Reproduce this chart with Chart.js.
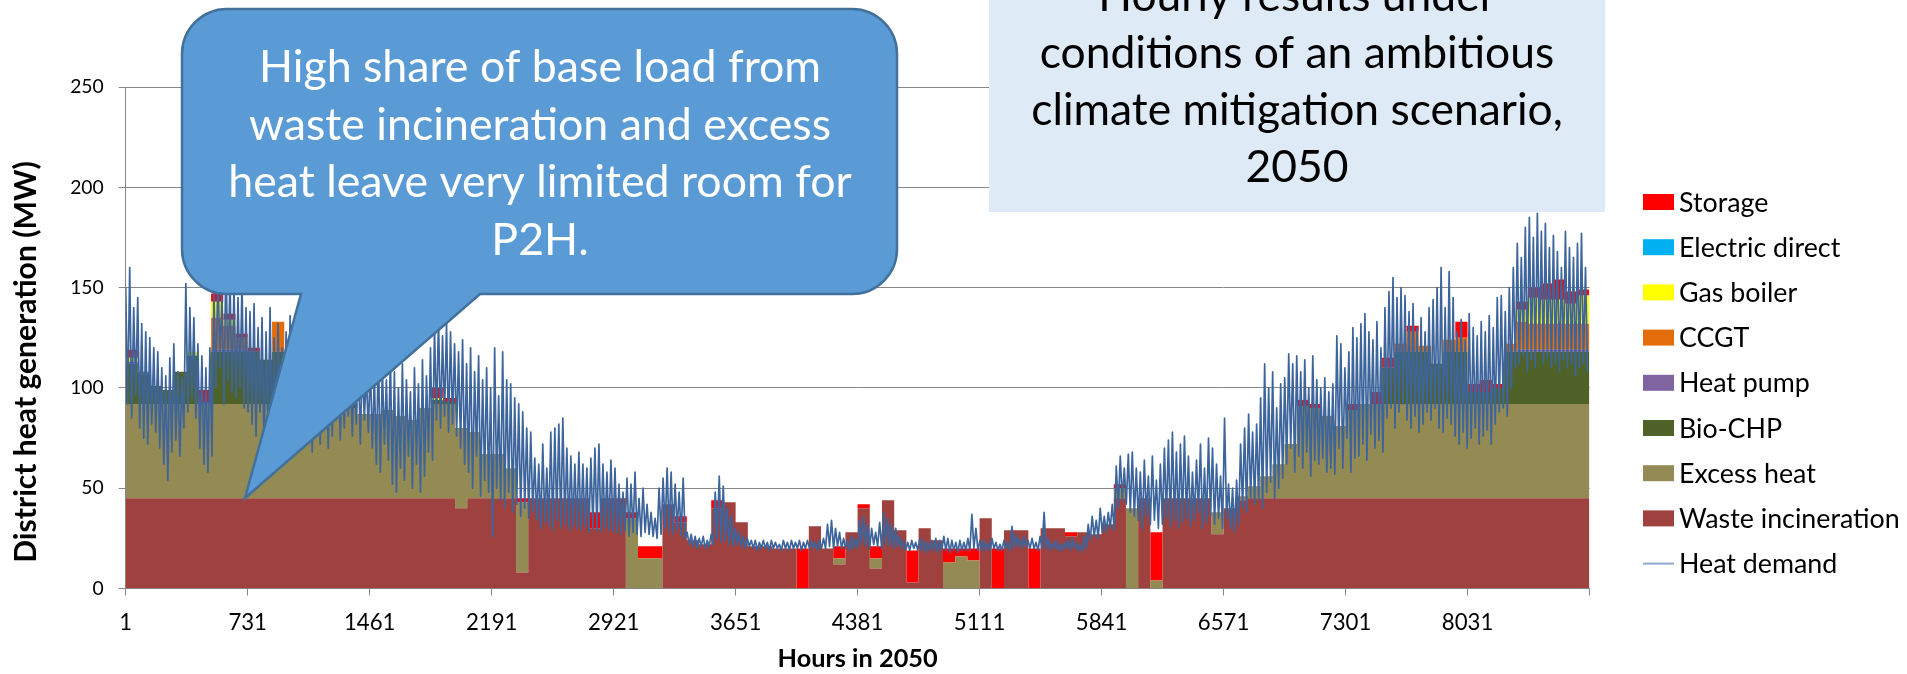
<!DOCTYPE html>
<html>
<head>
<meta charset="utf-8">
<title>District heat generation - hourly results 2050</title>
<script src="https://cdn.jsdelivr.net/npm/chart.js@4.4.0/dist/chart.umd.min.js"></script>
<style>
    html, body { margin: 0; padding: 0; background: #ffffff; }
    #chartBox { position: relative; width: 1907px; height: 674px; }
</style>
</head>
<body>
<div id="chartBox"><canvas id="heatChart"></canvas></div>
<script>
// Resolution of the values
const BLOCK_HOURS = 73;   // supply mix: one value per 73-hour block (120 blocks)
const DEMAND_STEP = 12;   // heat demand: one value every 12 hours (day peak, night low)
const LAST_HOUR = 8761;

// x-axis tick labels (hours in 2050); the last one is only a tick mark
const hourTicks = [1, 731, 1461, 2191, 2921, 3651, 4381, 5111, 5841, 6571, 7301, 8031, 8761];

// Supply per technology, MW, one value per 73-hour block
const wasteIncineration = [
    45,45,45,45,45,45,45,45,45,45,45,45,45,45,45,45,45,45,45,45,
    45,45,45,45,45,45,45,40,45,45,45,45,8,45,45,45,45,45,30,45,
    45,0,0,0,42,33,24,22,40,43,33,21,21,20,20,0,31,20,12,28,
    40,10,44,29,3,30,24,0,0,0,35,0,29,29,0,30,30,26,28,27,
    32,45,0,45,0,45,45,45,45,27,40,44,45,45,45,45,45,45,45,45,
    45,45,45,45,45,45,45,45,45,45,45,45,45,45,45,45,45,45,45,45
];
const excessHeat = [
    47,47,47,47,47,47,47,47,47,47,47,47,47,47,47,47,47,47,45,42,
    42,44,41,39,45,47,47,40,33,22,22,15,35,0,0,0,0,0,0,0,
    0,35,15,15,0,0,0,0,0,0,0,0,0,0,0,0,0,0,3,0,
    0,5,0,0,0,0,0,13,16,14,0,0,0,0,0,0,0,0,0,0,
    0,5,40,0,4,0,0,0,0,11,0,2,6,11,17,27,46,45,41,36,
    44,47,47,47,47,47,47,47,47,47,47,47,47,47,47,47,47,47,47,47
];
const bioChp = [
    20,15,9,7,16,24,0,26,26,26,26,22,26,20,16,12,10,6,2,0,
    0,0,0,0,0,2,1,0,0,0,0,0,0,0,0,0,0,0,0,0,
    0,0,0,0,0,0,0,0,0,0,0,0,0,0,0,0,0,0,0,0,
    0,0,0,0,0,0,0,0,0,0,0,0,0,0,0,0,0,0,0,0,
    0,0,0,0,0,0,0,0,0,0,0,0,0,0,0,0,0,0,0,0,
    0,0,0,18,26,26,26,20,26,26,6,6,8,26,26,26,26,26,26,26
];
const heatPump = [
    1,1,0,0,0,0,1,1,1,1,0,0,0,0,0,0,0,0,0,0,
    0,0,0,0,0,0,0,0,0,0,0,0,0,0,0,0,0,0,0,0,
    0,0,0,0,0,0,0,0,0,0,0,0,0,0,0,0,0,0,0,0,
    0,0,0,0,0,0,0,0,0,0,0,0,0,0,0,0,0,0,0,0,
    0,0,0,0,0,0,0,0,0,0,0,0,0,0,0,0,0,0,0,0,
    0,0,0,0,0,0,0,0,0,0,0,0,0,0,1,1,1,1,1,1
];
const ccgt = [
    0,0,0,0,0,0,0,16,12,6,0,0,15,0,0,0,0,0,0,0,
    0,0,0,0,0,0,0,0,0,0,0,0,0,0,0,0,0,0,0,0,
    0,0,0,0,0,0,0,0,0,0,0,0,0,0,0,0,0,0,0,0,
    0,0,0,0,0,0,0,0,0,0,0,0,0,0,0,0,0,0,0,0,
    0,0,0,0,0,0,0,0,0,0,0,0,0,0,0,0,0,0,0,0,
    0,0,0,0,4,10,3,0,6,7,0,0,0,4,14,13,13,13,13,13
];
const gasBoiler = [
    2,0,0,0,0,2,0,8,3,0,0,0,0,0,0,0,0,0,0,0,
    0,0,0,0,0,1,0,0,0,0,0,0,0,0,0,0,0,0,0,0,
    0,0,0,0,0,0,0,0,0,0,0,0,0,0,0,0,0,0,0,0,
    0,0,0,0,0,0,0,0,0,0,0,0,0,0,0,0,0,0,0,0,
    0,0,0,0,0,0,0,0,0,0,0,0,0,0,0,0,0,0,0,0,
    0,0,0,0,0,0,0,0,0,0,0,0,0,0,6,13,12,12,10,14
];
const electricDirect = [
    0,0,0,0,0,0,0,0,0,0,0,0,0,0,0,0,0,0,0,0,
    0,0,0,0,0,0,0,0,0,0,0,0,0,0,0,0,0,0,0,0,
    0,0,0,0,0,0,0,0,0,0,0,0,0,0,0,0,0,0,0,0,
    0,0,0,0,0,0,0,0,0,0,0,0,0,0,0,0,0,0,0,0,
    0,0,0,0,0,0,0,0,0,0,0,0,0,0,0,0,0,0,0,0,
    0,0,0,0,0,0,0,0,0,0,0,0,0,0,0,0,0,0,0,0
];
const storage = [
    4,0,0,0,0,0,6,4,3,2,2,0,0,0,0,0,0,0,0,0,
    0,0,0,0,0,5,2,0,0,0,0,0,2,0,0,0,0,0,8,0,
    0,3,6,6,0,3,0,0,4,0,0,0,0,0,0,20,0,0,6,0,
    2,6,0,0,16,0,0,7,4,6,0,20,0,0,20,0,0,2,0,0,
    0,2,0,0,24,0,0,0,0,0,0,0,0,0,0,0,3,2,0,0,
    3,0,6,5,0,3,0,0,0,8,4,6,2,0,4,5,8,10,6,3
];

// Heat demand, MW, every 12 hours (10 days per line: peak, low, peak, low ...)
const heatDemand = [
    150,92, 160,85, 140,96, 145,80, 132,75, 128,72, 125,82, 120,78, 118,70, 110,62,
    106,54, 115,68, 122,74, 108,66, 105,80, 152,88, 140,95, 135,85, 122,70, 116,62,
    110,58, 120,66, 150,100, 160,110, 148,92, 165,104, 155,98, 150,95, 145,100, 152,90,
    140,88, 138,82, 142,76, 130,88, 135,72, 128,80, 140,70, 125,78, 132,74, 120,68,
    128,80, 136,72, 122,76, 130,70, 118,82, 126,74, 120,68, 132,78, 124,72, 116,80,
    122,70, 128,76, 118,84, 124,74, 112,80, 120,86, 116,76, 110,82, 118,72, 114,84,
    108,78, 112,70, 106,62, 118,58, 110,72, 104,64, 116,52, 108,48, 100,60, 112,54,
    104,66, 98,50, 110,62, 102,48, 114,56, 106,68, 120,64, 130,84, 134,80, 126,86,
    132,78, 128,82, 122,76, 118,70, 124,62, 112,58, 120,50, 108,66, 116,46, 104,54,
    110,48, 100,26, 120,50, 96,44, 118,40, 104,48, 102,38, 95,42, 92,36, 88,40,
    80,35, 78,38, 65,34, 62,30, 72,33, 60,31, 78,29, 80,34, 82,30, 85,32,
    70,29, 66,31, 62,30, 68,29, 62,31, 60,28, 65,30, 70,29, 72,28, 62,30,
    58,29, 64,28, 60,28, 52,27, 48,29, 55,26, 52,28, 58,27, 45,26, 50,28,
    42,27, 38,26, 35,25, 50,27, 55,30, 60,28, 58,27, 52,29, 48,26, 55,25,
    28,22, 27,21, 26,20, 25,21, 26,20, 24,21, 27,22, 48,25, 56,23, 51,24,
    40,22, 36,21, 30,22, 28,21, 26,20, 25,21, 24,20, 24,19, 23,20, 24,20,
    23,19, 24,20, 23,20, 22,19, 24,20, 23,19, 24,20, 23,20, 24,19, 23,20,
    24,20, 24,20, 23,19, 24,20, 25,20, 32,21, 34,20, 30,21, 28,20, 25,20,
    24,19, 26,20, 25,20, 34,22, 36,21, 32,20, 30,22, 28,21, 33,20, 38,22,
    35,21, 32,20, 30,21, 26,20, 24,19, 23,19, 24,20, 23,19, 25,19, 24,18,
    23,19, 24,19, 25,18, 24,19, 26,19, 25,18, 24,19, 23,18, 24,19, 23,19,
    25,19, 37,20, 30,19, 24,19, 24,19, 23,19, 25,20, 23,19, 22,19, 24,20,
    23,19, 31,20, 27,21, 25,20, 26,21, 24,20, 25,20, 23,19, 26,20, 38,20,
    25,19, 23,20, 24,19, 22,19, 23,20, 24,19, 25,20, 23,19, 22,18, 26,20,
    32,24, 36,26, 34,25, 40,28, 36,28, 38,30, 42,29, 61,40, 66,44, 60,42,
    67,38, 68,36, 60,34, 58,30, 64,36, 56,32, 66,34, 54,30, 62,32, 70,35,
    74,31, 78,34, 68,30, 72,33, 76,35, 66,31, 58,34, 64,38, 72,30, 60,33,
    75,36, 70,32, 62,35, 56,30, 85,35, 52,30, 50,28, 54,32, 72,40, 80,38,
    87,45, 78,42, 82,44, 95,40, 112,48, 100,53, 108,45, 90,50, 102,55, 105,62,
    117,70, 112,58, 116,66, 108,60, 114,68, 100,56, 116,64, 104,62, 100,65, 105,58,
    98,60, 102,57, 126,70, 122,60, 110,75, 118,58, 130,65, 125,66, 132,72, 137,64,
    128,77, 124,70, 133,74, 120,68, 140,85, 148,90, 155,80, 145,88, 150,92, 146,84,
    138,80, 142,86, 130,78, 135,82, 128,88, 140,84, 144,90, 150,80, 160,78, 140,85,
    158,82, 145,76, 128,72, 134,78, 124,70, 137,75, 130,80, 126,72, 133,76, 128,79,
    136,72, 130,82, 145,88, 146,90, 138,86, 150,100, 160,110, 172,112, 165,116, 180,108,
    185,114, 175,110, 187,118, 178,112, 182,115, 170,110, 176,112, 168,108, 160,114, 178,110,
    170,112, 165,106, 172,110, 177,112, 160,108
];

// Text boxes drawn over the chart
const calloutLines = ['High share of base load from', 'waste incineration and excess', 'heat leave very limited room for', 'P2H.'];
const titleLines = ['Hourly results under', 'conditions of an ambitious', 'climate mitigation scenario,', '2050'];
const yAxisTitle = 'District heat generation (MW)';
const xAxisTitle = 'Hours in 2050';

const FONT = 'Lato, "Open Sans", sans-serif';
const GRID_GREY = '#878787';

// Function to find the font size that gives a text a given width
const measureCtx = document.createElement('canvas').getContext('2d');
function fitFontSize(text, targetWidth, weight) {
    measureCtx.font = (weight || 'normal') + ' 100px ' + FONT;
    return Math.round(100 * targetWidth / measureCtx.measureText(text).width * 10) / 10;
}

const xTickSize = fitFontSize('4381', 51.5);
const yTickSize = fitFontSize('200', 33.5);
const xTitleSize = fitFontSize(xAxisTitle, 160, 'bold');
const yTitleSize = fitFontSize(yAxisTitle, 402, 'bold');
const legendSize = fitFontSize('Waste incineration', 221);
const calloutSize = fitFontSize(calloutLines[2], 624);
const titleSize = fitFontSize(titleLines[2], 532);

// Supply stack, bottom to top
const supplySeries = [
    { label: 'Waste incineration', values: wasteIncineration, color: '#9E413F' },
    { label: 'Excess heat', values: excessHeat, color: '#948A54' },
    { label: 'Bio-CHP', values: bioChp, color: '#4F6228' },
    { label: 'Heat pump', values: heatPump, color: '#8064A2' },
    { label: 'CCGT', values: ccgt, color: '#E46C0A' },
    { label: 'Gas boiler', values: gasBoiler, color: '#FFFF00' },
    { label: 'Electric direct', values: electricDirect, color: '#00B0F0' },
    { label: 'Storage', values: storage, color: '#FF0000' }
];
const demandColor = '#3D659C';

// Function to turn a block series into {x, y} points (last block held to the end of the year)
function blockPoints(values) {
    const points = values.map((v, i) => ({ x: 1 + i * BLOCK_HOURS, y: v }));
    points.push({ x: LAST_HOUR, y: values[values.length - 1] });
    return points;
}

// Function to turn the demand series into {x, y} points
function demandPoints(values) {
    return values.map((v, i) => ({ x: 1 + i * DEMAND_STEP, y: v }));
}

// Function to draw the speech-bubble callout
function drawCallout(ctx) {
    const l = 182, t = 9, r = 897, b = 294, rad = 45;
    const tailLeft = 301, tailRight = 480, tipX = 245, tipY = 498;
    ctx.save();
    ctx.beginPath();
    ctx.moveTo(l + rad, t);
    ctx.lineTo(r - rad, t);
    ctx.arcTo(r, t, r, t + rad, rad);
    ctx.lineTo(r, b - rad);
    ctx.arcTo(r, b, r - rad, b, rad);
    ctx.lineTo(tailRight, b);
    ctx.lineTo(tipX, tipY);
    ctx.lineTo(tailLeft, b);
    ctx.lineTo(l + rad, b);
    ctx.arcTo(l, b, l, b - rad, rad);
    ctx.lineTo(l, t + rad);
    ctx.arcTo(l, t, l + rad, t, rad);
    ctx.closePath();
    ctx.fillStyle = '#5B9BD5';
    ctx.fill();
    ctx.lineWidth = 2.5;
    ctx.strokeStyle = '#41719C';
    ctx.stroke();

    ctx.fillStyle = '#FFFFFF';
    ctx.font = calloutSize + 'px ' + FONT;
    ctx.textAlign = 'center';
    ctx.textBaseline = 'alphabetic';
    calloutLines.forEach((line, i) => ctx.fillText(line, 540, 82 + i * 57.5));
    ctx.restore();
}

// Function to draw the light blue title box
function drawTitleBox(ctx) {
    ctx.save();
    ctx.fillStyle = '#DEEAF6';
    ctx.fillRect(989, 0, 616, 212);
    ctx.fillStyle = '#000000';
    ctx.font = titleSize + 'px ' + FONT;
    ctx.textAlign = 'center';
    ctx.textBaseline = 'alphabetic';
    titleLines.forEach((line, i) => ctx.fillText(line, 1297, 11 + i * 57));
    ctx.restore();
}

// Function to draw the rotated y-axis title
function drawYTitle(ctx) {
    ctx.save();
    ctx.translate(26, 362);
    ctx.rotate(-Math.PI / 2);
    ctx.fillStyle = '#000000';
    ctx.font = 'bold ' + yTitleSize + 'px ' + FONT;
    ctx.textAlign = 'center';
    ctx.textBaseline = 'middle';
    ctx.fillText(yAxisTitle, 0, 0);
    ctx.restore();
}

// Function to draw the legend on the right
function drawLegend(chart) {
    const ctx = chart.ctx;
    const supply = chart.data.datasets.filter(ds => ds.fill !== false).reverse();
    const demand = chart.data.datasets.filter(ds => ds.fill === false);
    const items = supply.concat(demand);
    ctx.save();
    ctx.font = legendSize + 'px ' + FONT;
    ctx.textAlign = 'left';
    ctx.textBaseline = 'alphabetic';
    items.forEach((ds, i) => {
        const cy = 202 + i * 45.2;
        if (ds.fill === false) {
            ctx.strokeStyle = '#8EA8D0';
            ctx.lineWidth = 2;
            ctx.beginPath();
            ctx.moveTo(1643, cy);
            ctx.lineTo(1674, cy);
            ctx.stroke();
        } else {
            ctx.fillStyle = ds.backgroundColor;
            ctx.fillRect(1643, cy - 8, 31, 16);
        }
        ctx.fillStyle = '#000000';
        ctx.fillText(ds.label, 1679, cy + 9.5);
    });
    ctx.restore();
}

const overlayPlugin = {
    id: 'overlay',
    afterDraw(chart) {
        drawYTitle(chart.ctx);
        drawCallout(chart.ctx);
        drawTitleBox(chart.ctx);
        drawLegend(chart);
    }
};

const datasets = supplySeries.map((s, i) => ({
    label: s.label,
    data: blockPoints(s.values),
    stepped: true,
    fill: i === 0 ? 'origin' : '-1',
    backgroundColor: s.color,
    borderColor: s.color,
    borderWidth: 0,
    pointRadius: 0,
    stack: 'supply',
    order: 1
}));
datasets.push({
    label: 'Heat demand',
    data: demandPoints(heatDemand),
    fill: false,
    borderColor: demandColor,
    borderWidth: 1.7,
    borderJoinStyle: 'round',
    pointRadius: 0,
    stack: 'demand',
    order: 0
});

const chartContext = document.getElementById('heatChart').getContext('2d');
new Chart(chartContext, {
    type: 'line',
    data: { datasets: datasets },
    options: {
        responsive: true,
        maintainAspectRatio: false,
        animation: false,
        events: [],
        layout: { padding: { left: 0, right: 317.5, top: 87, bottom: 0 } },
        plugins: {
            legend: { display: false },
            tooltip: { enabled: false }
        },
        scales: {
            x: {
                type: 'linear',
                min: 1,
                max: LAST_HOUR,
                z: 1,
                afterBuildTicks: (scale) => { scale.ticks = hourTicks.map(v => ({ value: v })); },
                afterFit: (scale) => { scale.height = 85.5; },
                ticks: {
                    autoSkip: false,
                    maxRotation: 0,
                    padding: 14,
                    color: '#000000',
                    font: { family: FONT, size: xTickSize },
                    callback: (v) => (v === LAST_HOUR ? '' : String(v))
                },
                grid: { drawOnChartArea: false, drawTicks: true, tickLength: 7, color: GRID_GREY },
                border: { display: true, color: GRID_GREY },
                title: {
                    display: true,
                    text: xAxisTitle,
                    color: '#000000',
                    font: { family: FONT, size: xTitleSize, weight: 'bold' },
                    padding: { top: 0, bottom: 0 }
                }
            },
            y: {
                stacked: true,
                min: 0,
                max: 250,
                afterFit: (scale) => { scale.width = 125.7; },
                ticks: {
                    stepSize: 50,
                    padding: 15,
                    color: '#000000',
                    font: { family: FONT, size: yTickSize }
                },
                grid: { color: GRID_GREY, tickLength: 7 },
                border: { display: true, color: GRID_GREY },
                title: { display: false }
            }
        }
    },
    plugins: [overlayPlugin]
});
</script>
</body>
</html>
